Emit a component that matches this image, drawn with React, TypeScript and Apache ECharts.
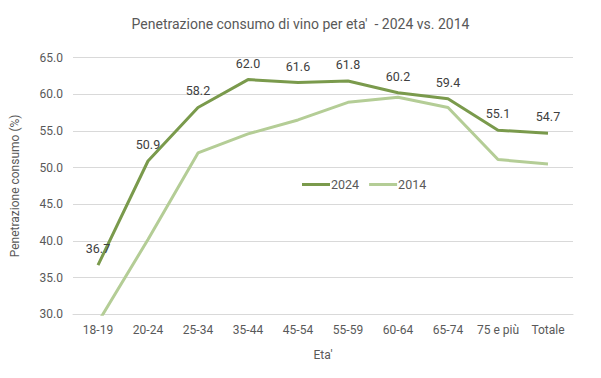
import React, { useEffect, useRef } from "react";
import * as echarts from "echarts";

const categories = ["18-19", "20-24", "25-34", "35-44", "45-54", "55-59", "60-64", "65-74", "75 e più", "Totale"];
const values2024 = [36.7, 50.9, 58.2, 62.0, 61.6, 61.8, 60.2, 59.4, 55.1, 54.7];
const values2014 = [28.9, 40.2, 52.0, 54.6, 56.5, 58.9, 59.6, 58.2, 51.1, 50.5];
const seriesNames = ["2024", "2014"];

export default function App() {
  const ref = useRef<HTMLDivElement>(null);
  useEffect(() => {
    const chart = echarts.init(ref.current!, null, { renderer: "svg" });
    const font = "Roboto, 'Liberation Sans', sans-serif";
    chart.setOption({
      animation: false,
      backgroundColor: "#ffffff",
      title: {
        text: "Penetrazione consumo di vino per eta'  - 2024 vs. 2014",
        left: "center",
        top: 12,
        textStyle: { fontFamily: font, fontSize: 14, fontWeight: "normal", color: "#595959" },
      },
      legend: {
        left: 297,
        top: 173,
        icon: "rect",
        itemWidth: 28,
        itemHeight: 3,
        itemGap: 10,
        textStyle: { fontFamily: font, fontSize: 12.5, color: "#595959", padding: [0, 0, 0, -4] },
        data: seriesNames,
      },
      grid: { left: 73, right: 28, top: 57.6, bottom: 63.7, containLabel: false },
      xAxis: {
        type: "category",
        data: categories,
        boundaryGap: true,
        name: "Eta'",
        nameLocation: "middle",
        nameGap: 35,
        nameTextStyle: { fontFamily: font, fontSize: 12, color: "#595959" },
        axisLine: { show: true, lineStyle: { color: "#d9d9d9" } },
        axisTick: { show: false },
        axisLabel: { fontFamily: font, fontSize: 12, color: "#595959", margin: 10, interval: 0 },
      },
      yAxis: {
        type: "value",
        min: 30,
        max: 65,
        interval: 5,
        name: "Penetrazione consumo (%)",
        nameLocation: "middle",
        nameGap: 52,
        nameTextStyle: { fontFamily: font, fontSize: 12, color: "#595959" },
        axisLine: { show: false },
        axisTick: { show: false },
        axisLabel: {
          fontFamily: font,
          fontSize: 12,
          color: "#595959",
          margin: 10,
          formatter: (v: number) => v.toFixed(1),
        },
        splitLine: { lineStyle: { color: "#d9d9d9", width: 1 } },
      },
      series: [
        {
          name: seriesNames[0],
          type: "line",
          data: values2024,
          symbol: "circle",
          symbolSize: 0,
          showSymbol: true,
          clip: true,
          z: 3,
          lineStyle: { color: "#7a9a4c", width: 3 },
          itemStyle: { color: "#7a9a4c" },
          label: {
            show: true,
            position: "top",
            distance: 10,
            fontFamily: font,
            fontSize: 12.5,
            color: "#404040",
            formatter: (p: any) => Number(p.value).toFixed(1),
          },
        },
        {
          name: seriesNames[1],
          type: "line",
          data: values2014,
          symbol: "none",
          clip: true,
          z: 2,
          lineStyle: { color: "#b4cd96", width: 3 },
          itemStyle: { color: "#b4cd96" },
        },
      ],
    });
    return () => chart.dispose();
  }, []);
  return <div ref={ref} style={{ width: 601, height: 378, position: "absolute", left: 0, top: 0 }} />;
}
